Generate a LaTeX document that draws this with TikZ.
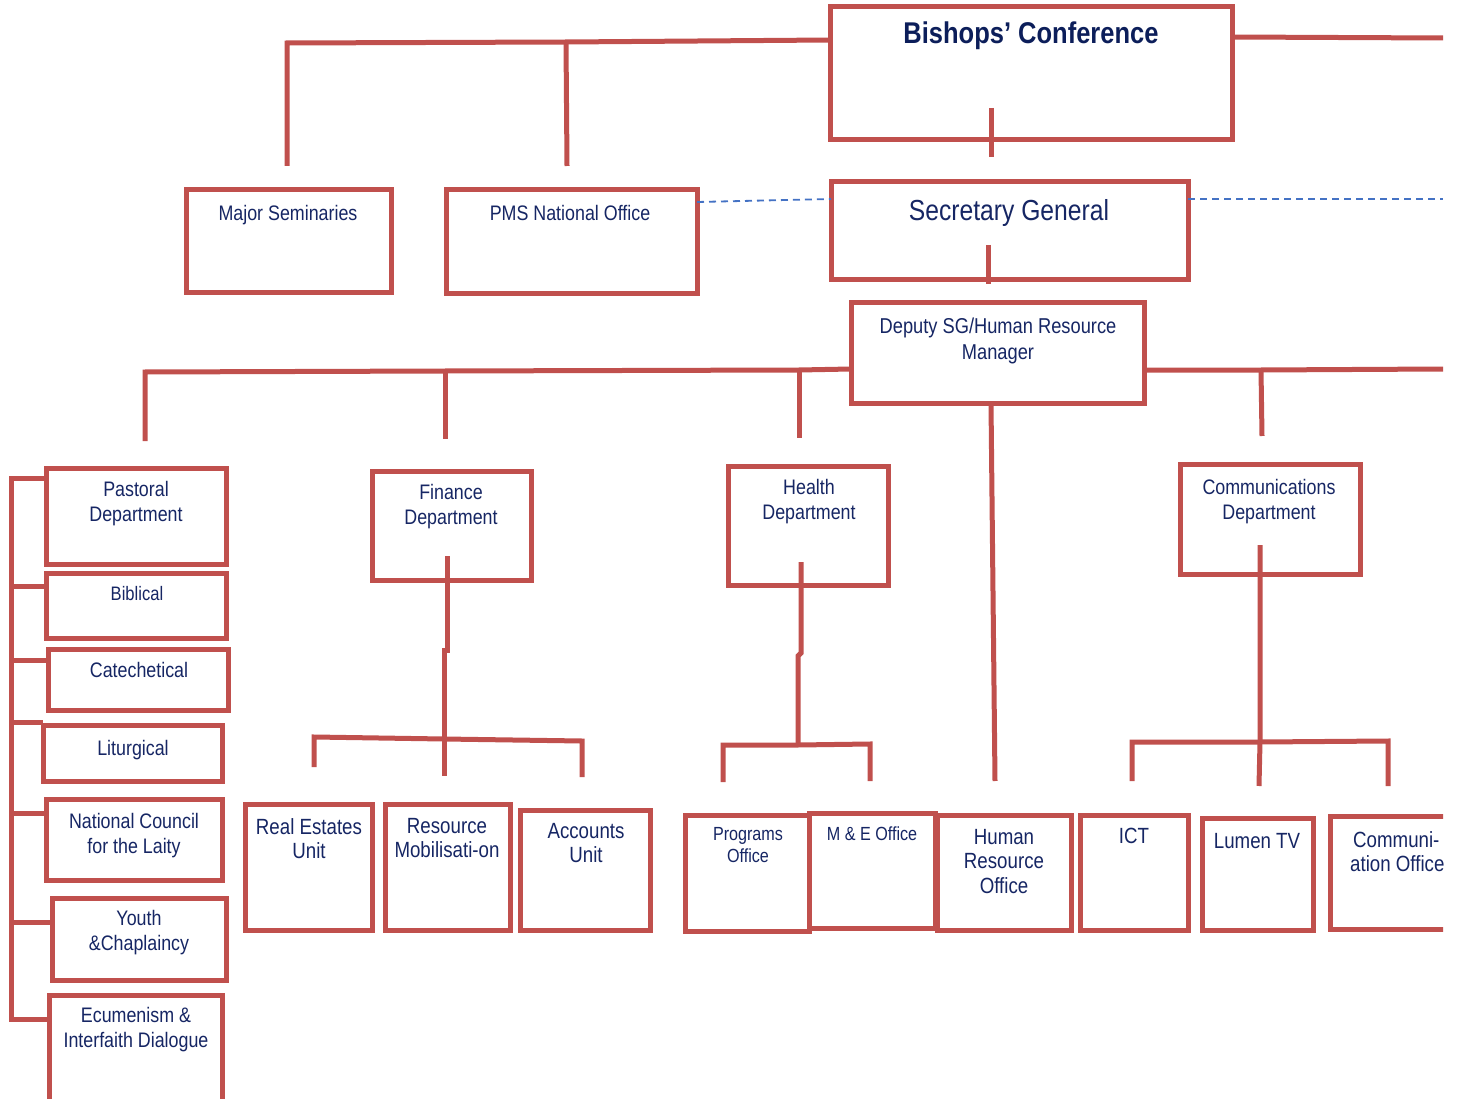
\documentclass[tikz,border=0pt]{standalone}
\usepackage{fontspec}
\setmainfont{Liberation Sans}[FakeStretch=0.85]
\usetikzlibrary{calc}
\definecolor{boxred}{RGB}{192,80,77}
\definecolor{navy}{RGB}{22,38,100}
\definecolor{dashblue}{RGB}{68,114,196}
\newcommand\fsA{\fontsize{21}{25}\selectfont}
\newcommand\fsB{\fontsize{22}{24.5}\selectfont}
\newcommand\fsC{\fontsize{19}{22}\selectfont}
\newcommand\fsD{\fontsize{19.5}{22}\selectfont}
\newcommand\fsE{\fontsize{21.5}{26}\selectfont}
\begin{document}
\begin{tikzpicture}[x=1pt,y=-1pt,
  box/.style={draw=boxred,line width=5pt,fill=white,inner sep=0pt,outer sep=0pt,anchor=north west},
  txt/.style={text=navy,align=center,anchor=north,inner sep=0pt,font=\fsA},
  conn/.style={draw=boxred,line width=5pt},
  dconn/.style={draw=dashblue,line width=1.8pt,dash pattern=on 7pt off 5pt}]
\useasboundingbox (0,0) rectangle (1462,1099);
\begin{scope}
\clip (0,0) rectangle (1443,1099);
% boxes
\node[box,minimum width=402,minimum height=133] (bc) at (830,7) {};
\node[box,minimum width=357,minimum height=98] (sg) at (831,182) {};
\node[box,minimum width=205,minimum height=103] (maj) at (186,190) {};
\node[box,minimum width=251,minimum height=104] (pms) at (446,190) {};
\node[box,minimum width=293,minimum height=100] (dep) at (851,303) {};
\node[box,minimum width=180,minimum height=96] (past) at (46,468) {};
\node[box,minimum width=180,minimum height=65] (bib) at (46,573) {};
\node[box,minimum width=180,minimum height=61] (cat) at (48,649) {};
\node[box,minimum width=179,minimum height=56] (lit) at (43,725) {};
\node[box,minimum width=176,minimum height=81] (ncl) at (46,799) {};
\node[box,minimum width=174,minimum height=82] (yth) at (52,898) {};
\node[box,minimum width=173,minimum height=130] (ecu) at (49,995) {};
\node[box,minimum width=159,minimum height=109] (fin) at (372,471) {};
\node[box,minimum width=127,minimum height=126] (res) at (245,804) {};
\node[box,minimum width=125,minimum height=126] (rmo) at (385,804) {};
\node[box,minimum width=130,minimum height=120] (acc) at (520,810) {};
\node[box,minimum width=160,minimum height=119] (hea) at (728,466) {};
\node[box,minimum width=124,minimum height=116] (prg) at (685,815) {};
\node[box,minimum width=126,minimum height=115] (mne) at (809,813) {};
\node[box,minimum width=134,minimum height=115] (hro) at (937,815) {};
\node[box,minimum width=108,minimum height=115] (ict) at (1080,815) {};
\node[box,minimum width=111,minimum height=112] (lum) at (1202,818) {};
\node[box,minimum width=180,minimum height=110] (com) at (1180,464) {};
\node[box,minimum width=150,minimum height=113] (cof) at (1330,816) {};
% texts
\node[txt,font=\fontsize{30}{34}\selectfont\bfseries,text={rgb,255:red,12;green,30;blue,90}] (tbc) at (1031,22) {Bishops’ Conference};
\node[txt,font=\fontsize{29}{33}\selectfont] (tsg) at (1009,199) {Secretary General};
\node[txt] (tmaj) at (288,205) {Major Seminaries};
\node[txt] (tpms) at (570,205) {PMS National Office};
\node[txt,font=\fsE] (tdep) at (998,318) {Deputy SG/Human Resource\\Manager};
\node[txt] (tpast) at (136,481) {Pastoral\\Department};
\node[txt,font=\fsD] (tbib) at (137,586) {Biblical};
\node[txt] (tcat) at (139,662) {Catechetical};
\node[txt] (tlit) at (133,740) {Liturgical};
\node[txt] (tncl) at (134,813) {National Council\\for the Laity};
\node[txt] (tyth) at (139,910) {Youth\\\&Chaplaincy};
\node[txt] (tecu) at (136,1007) {Ecumenism \&\\Interfaith Dialogue};
\node[txt] (tfin) at (451,484) {Finance\\Department};
\node[txt,font=\fsB] (tres) at (309,818) {Real Estates\\Unit};
\node[txt,font=\fsB] (trmo) at (447,818) {Resource\\Mobilisati-on};
\node[txt,font=\fsB] (tacc) at (586,823) {Accounts\\Unit};
\node[txt] (thea) at (809,479) {Health\\Department};
\node[txt] (tcom) at (1269,479) {Communications\\Department};
\node[txt,font=\fsC] (tprg) at (748,827) {Programs\\Office};
\node[txt,font=\fsC] (tmne) at (872,827) {M \& E Office};
\node[txt,font=\fsB] (thro) at (1004,829) {Human\\Resource\\Office};
\node[txt,font=\fsB] (tict) at (1134,828) {ICT};
\node[txt,font=\fsB] (tlum) at (1257,833) {Lumen TV};
\node[txt,font=\fsB,align=left,anchor=north west] (tcof) at (1350,831) {\hspace*{3pt}Communi-\\ation Office};
% connectors: top
\coordinate (jMaj) at (287,43);
\coordinate (jPms) at (566,42);
\draw[conn] (bc.west |- 0,40) -- (jPms) -- (jMaj) -- (287,166);
\draw[conn] (jPms) -- (567,166);
\draw[conn] (bc.east |- 0,37) -- (1443,38);
\draw[conn] (991,108) -- (991,157);
\draw[dconn] (pms.east |- 0,202) -- (sg.west |- 0,199);
\draw[dconn] (sg.east |- 0,199) -- (1443,199);
\draw[conn] (988,245) -- (988,284);
% second level
\coordinate (jPast) at (145,372);
\coordinate (jFin) at (445,371);
\coordinate (jHea) at (799,370);
\draw[conn] (dep.west |- 0,369) -- (jHea) -- (jFin) -- (jPast) -- (145,441);
\draw[conn] (jFin) -- (445,439);
\draw[conn] (jHea) -- (799,438);
\coordinate (jCom) at (1261,370);
\draw[conn] (dep.east |- 0,370) -- (jCom) -- (1443,369);
\draw[conn] (jCom) -- (1262,436);
\draw[conn] (dep.south -| 991,0) -- (995,781);
% pastoral bracket
\draw[conn] (past.west |- 0,478) -- (11,478) -- (11,1019) -- (ecu.west |- 0,1019);
\draw[conn] (11,586) -- (bib.west |- 0,586);
\draw[conn] (11,660) -- (cat.west |- 0,660);
\draw[conn] (11,722) -- (lit.west |- 0,722);
\draw[conn] (11,813) -- (ncl.west |- 0,813);
\draw[conn] (11,922) -- (yth.west |- 0,922);
% finance
\coordinate (jF) at (444,739);
\draw[conn] (447,556) -- (447,650) -- (444,650) -- (jF) -- (444,776);
\draw[conn] (314,767) -- (314,737) -- (jF) -- (582,741) -- (582,777);
% health
\coordinate (jH) at (798,745);
\draw[conn] (801,562) -- (801,653) -- (798,656) -- (jH);
\draw[conn] (723,782) -- (723,745) -- (jH) -- (870,744) -- (870,781);
% communications
\coordinate (jC) at (1260,742);
\draw[conn] (1260,545) -- (jC) -- (1259,786);
\draw[conn] (1132,781) -- (1132,742) -- (jC) -- (1388,741) -- (1388,786);
\end{scope}
\end{tikzpicture}
\end{document}
